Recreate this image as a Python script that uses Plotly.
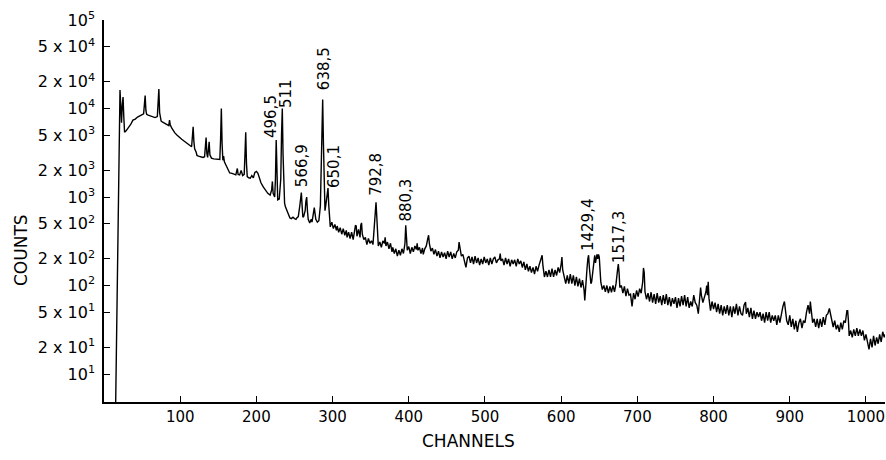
import math
import plotly.graph_objects as go

# ---- spectrum (channel, counts) ----
channels = [
    0, 15, 21, 22, 23, 24, 25, 26, 27, 29,
    31, 33, 35, 38, 41, 44, 47, 50, 52, 53,
    54, 55, 56, 58, 61, 64, 67, 70, 71, 72,
    73, 75, 77, 80, 83, 85, 86, 87, 89, 91,
    93, 96, 99, 102, 105, 108, 111, 113, 115, 116,
    117, 118, 119, 121, 122, 124, 127, 130, 132, 133,
    134, 135, 136, 137, 138, 139, 141, 144, 147, 150,
    152, 153, 154, 155, 156, 157, 158, 160, 162, 164,
    165, 168, 171, 173, 175, 176, 178, 180, 182, 184,
    185, 186, 187, 188, 190, 192, 194, 196, 198, 200,
    202, 204, 206, 209, 212, 215, 218, 220, 221, 222,
    224, 225, 226, 227, 228, 230, 232, 233, 234, 235,
    236, 237, 238, 240, 242, 244, 246, 248, 250, 252,
    253, 255, 257, 258, 259, 260, 261, 262, 264, 265,
    266, 267, 268, 270, 272, 273, 274, 275, 276, 277,
    278, 280, 282, 284, 285, 286, 287, 288, 289, 290,
    291, 292, 293, 294, 295, 296, 297, 299, 301, 303,
    305, 306, 308, 310, 312, 314, 316, 318, 319, 321,
    323, 325, 327, 329, 330, 331, 332, 334, 336, 337,
    338, 339, 341, 343, 345, 347, 349, 351, 353, 355,
    356, 357, 358, 359, 360, 362, 364, 366, 368, 369,
    370, 372, 374, 376, 378, 379, 381, 383, 385, 387,
    389, 391, 393, 395, 396, 397, 398, 400, 402, 404,
    406, 408, 410, 411, 412, 414, 416, 418, 419, 421,
    423, 425, 426, 427, 429, 431, 433, 435, 437, 439,
    441, 443, 445, 447, 449, 451, 453, 455, 457, 459,
    461, 463, 465, 466, 467, 469, 471, 473, 475, 477,
    479, 481, 483, 485, 487, 489, 491, 493, 495, 497,
    499, 501, 503, 505, 507, 509, 511, 513, 515, 517,
    519, 520, 521, 523, 525, 527, 529, 531, 533, 535,
    537, 539, 541, 543, 545, 547, 549, 551, 553, 555,
    557, 559, 561, 563, 565, 567, 569, 571, 573, 575,
    576, 578, 580, 582, 584, 586, 588, 590, 592, 594,
    596, 598, 600, 601, 602, 604, 606, 608, 610, 612,
    614, 616, 618, 620, 622, 624, 626, 628, 630, 631,
    632, 634, 635, 636, 637, 638, 639, 640, 641, 642,
    643, 644, 645, 646, 647, 648, 649, 650, 651, 652,
    654, 656, 658, 660, 662, 664, 666, 668, 670, 672,
    674, 675, 676, 677, 679, 681, 683, 685, 687, 689,
    691, 693, 695, 697, 699, 701, 703, 705, 707, 708,
    709, 710, 712, 714, 716, 718, 720, 722, 724, 726,
    728, 730, 732, 734, 736, 738, 740, 742, 744, 746,
    748, 750, 752, 754, 756, 758, 760, 762, 764, 766,
    768, 770, 772, 774, 776, 778, 780, 782, 783, 784,
    786, 788, 790, 791, 792, 793, 794, 796, 798, 800,
    802, 804, 806, 808, 810, 812, 814, 816, 818, 820,
    822, 824, 826, 828, 830, 832, 834, 836, 838, 840,
    842, 843, 845, 847, 849, 851, 853, 855, 857, 859,
    861, 863, 865, 867, 869, 871, 873, 875, 877, 879,
    881, 883, 885, 887, 889, 891, 893, 894, 896, 898,
    900, 902, 904, 906, 908, 910, 912, 914, 916, 918,
    920, 922, 924, 926, 927, 928, 930, 932, 934, 936,
    938, 940, 942, 944, 946, 948, 950, 952, 953, 955,
    957, 959, 961, 963, 965, 967, 969, 971, 973, 975,
    976, 977, 978, 980, 982, 984, 986, 988, 990, 992,
    994, 996, 998, 1000, 1002, 1004, 1006, 1008, 1010, 1012,
    1014, 1016, 1018, 1020, 1022, 1024, 1025,
]

counts = [
    3, 3, 16200, 9000, 6900, 11000, 13500, 8000, 5400, 5600,
    5900, 6300, 6600, 7400, 7600, 8000, 8200, 8500, 8700, 11000,
    14000, 9500, 8600, 8400, 8200, 8000, 7900, 8100, 11000, 16600,
    9000, 7200, 7000, 6800, 6600, 6400, 7400, 6500, 6000, 5600,
    5300, 5000, 4700, 4500, 4300, 4100, 3900, 3800, 3700, 4800,
    6200, 4200, 3500, 3200, 2950, 2900, 2850, 2800, 2850, 3800,
    4700, 3100, 2800, 3400, 4200, 3000, 2750, 2700, 2700, 2650,
    2650, 4500, 10000, 4000, 2600, 2900, 2500, 2300, 2100, 1900,
    1870, 1850, 1800, 1780, 2100, 1800, 1780, 2000, 1750, 1800,
    3000, 5400, 2400, 1700, 1650, 1630, 1750, 1650, 1900, 1950,
    1850, 1600, 1450, 1300, 1200, 1100, 1050, 1200, 1500, 1100,
    1000, 1600, 4400, 1500, 930, 950, 1600, 5000, 10000, 3000,
    1000, 850, 780, 700, 640, 580, 570, 590, 570, 560,
    580, 600, 800, 1000, 1120, 800, 590, 600, 700, 900,
    1000, 700, 560, 510, 560, 520, 580, 700, 760, 650,
    560, 520, 540, 800, 3000, 8000, 12600, 4000, 900, 700,
    800, 1000, 1200, 1260, 800, 560, 460, 520, 440, 490,
    420, 470, 400, 450, 380, 440, 370, 420, 350, 400,
    340, 400, 330, 420, 480, 470, 360, 430, 350, 480,
    510, 380, 330, 350, 290, 340, 300, 320, 290, 500,
    700, 870, 600, 400, 280, 310, 270, 320, 300, 350,
    280, 310, 260, 300, 240, 270, 230, 260, 215, 250,
    220, 260, 230, 300, 480, 350, 250, 275, 230, 270,
    240, 280, 255, 300, 250, 270, 230, 265, 225, 260,
    280, 340, 370, 300, 245, 265, 225, 255, 215, 245,
    205, 240, 210, 235, 200, 245, 210, 240, 200, 230,
    205, 240, 250, 310, 260, 215, 225, 180, 160, 205,
    215, 180, 210, 175, 215, 180, 205, 170, 200, 175,
    210, 180, 200, 170, 205, 175, 200, 210, 180, 195,
    200, 230, 190, 200, 170, 205, 175, 200, 165, 195,
    175, 195, 165, 200, 175, 190, 160, 185, 150, 175,
    145, 165, 140, 160, 135, 165, 145, 170, 190, 220,
    170, 125, 145, 125, 150, 125, 155, 125, 150, 130,
    160, 140, 175, 210, 150, 125, 105, 130, 105, 135,
    105, 130, 100, 125, 98, 120, 95, 115, 90, 68,
    100, 160, 200, 220, 160, 120, 105, 110, 130, 180,
    210, 220, 180, 220, 225, 200, 225, 210, 160, 110,
    90, 100, 85, 100, 82, 98, 84, 100, 85, 105,
    150, 175, 140, 95, 100, 82, 98, 76, 92, 78,
    80, 58, 82, 70, 88, 75, 92, 82, 110, 158,
    140, 85, 70, 82, 66, 84, 64, 80, 62, 82,
    64, 76, 60, 78, 62, 80, 60, 74, 58, 72,
    62, 74, 56, 72, 58, 76, 60, 78, 58, 74,
    56, 66, 58, 78, 64, 60, 48, 70, 95, 78,
    64, 74, 85, 100, 78, 110, 72, 52, 66, 54,
    64, 50, 62, 48, 60, 46, 58, 48, 60, 46,
    58, 44, 58, 48, 62, 46, 58, 48, 46, 60,
    65, 48, 56, 44, 56, 42, 52, 42, 50, 44,
    50, 40, 48, 38, 50, 40, 50, 38, 46, 40,
    46, 36, 46, 38, 50, 58, 66, 55, 40, 36,
    46, 34, 42, 32, 40, 30, 38, 42, 33, 40,
    38, 50, 60, 48, 66, 55, 38, 42, 34, 42,
    33, 42, 34, 44, 36, 46, 48, 55, 50, 38,
    34, 40, 32, 36, 30, 38, 32, 40, 38, 52,
    52, 40, 27, 31, 26, 32, 27, 33, 27, 32,
    27, 31, 24, 28, 23, 19, 25, 20, 27, 21,
    26, 22, 28, 23, 30, 26, 28,
]

# ---- peak energy labels ----
peak_labels = ["496,5", "511", "566,9", "638,5", "650,1", "792,8", "880,3", "1429,4", "1517,3"]
peak_label_channels = [219, 239, 260, 289, 302, 357, 396, 636, 675]
peak_label_counts = [8200, 14600, 2240, 28000, 2190, 1780, 930, 490, 355]

# ---- axis ticks ----
x_tick_values = [100, 200, 300, 400, 500, 600, 700, 800, 900, 1000]
y_tick_values = [1e5, 5e4, 2e4, 1e4, 5e3, 2e3, 1e3, 500, 200, 100, 50, 20, 10]
y_tick_text = ["10<sup>5</sup>", "5 x 10<sup>4</sup>", "2 x 10<sup>4</sup>", "10<sup>4</sup>",
               "5 x 10<sup>3</sup>", "2 x 10<sup>3</sup>", "10<sup>3</sup>",
               "5 x 10<sup>2</sup>", "2 x 10<sup>2</sup>", "10<sup>2</sup>",
               "5 x 10<sup>1</sup>", "2 x 10<sup>1</sup>", "10<sup>1</sup>"]

assert len(channels) == len(counts)

FONT = "DejaVu Sans"
L, R, T, B = 104, 1, 20, 58
W, H = 886, 460
PW, PH = W - L - R, H - T - B

fig = go.Figure()
fig.add_trace(go.Scatter(
    x=channels, y=counts, mode="lines",
    line=dict(color="black", width=1.4),
    hoverinfo="skip", showlegend=False,
))

for txt, ch, ct in zip(peak_labels, peak_label_channels, peak_label_counts):
    fig.add_annotation(
        x=ch, y=math.log10(ct), xref="x", yref="y",
        text=txt, textangle=-90, showarrow=False,
        xanchor="center", yanchor="middle",
        font=dict(family=FONT, size=15, color="black"),
    )

fig.add_annotation(
    x=(468 - L) / PW, y=1 - (441 - T) / PH, xref="paper", yref="paper",
    text="CHANNELS", showarrow=False,
    xanchor="center", yanchor="middle",
    font=dict(family=FONT, size=17, color="black"),
)
fig.add_annotation(
    x=-(L - 21) / PW, y=1 - (250 - T) / PH, xref="paper", yref="paper",
    text="COUNTS", textangle=-90, showarrow=False,
    xanchor="center", yanchor="middle",
    font=dict(family=FONT, size=17, color="black"),
)

fig.update_layout(
    width=W, height=H,
    margin=dict(l=L, r=R, t=T, b=B, autoexpand=False),
    paper_bgcolor="white", plot_bgcolor="white",
    font=dict(family=FONT, color="black"),
    xaxis=dict(
        range=[0, 1025], tickvals=x_tick_values, automargin=False,
        ticks="inside", ticklen=6, tickwidth=1.3, tickcolor="black",
        showline=True, linecolor="black", linewidth=1.6,
        showgrid=False, zeroline=False,
        tickfont=dict(family=FONT, size=15, color="black"),
        ticklabelstandoff=0,
    ),
    yaxis=dict(
        type="log", range=[0.684, 5], automargin=False,
        tickvals=y_tick_values, ticktext=y_tick_text,
        ticks="inside", ticklen=6, tickwidth=1.3, tickcolor="black",
        showline=True, linecolor="black", linewidth=1.6,
        showgrid=False, zeroline=False,
        tickfont=dict(family=FONT, size=16, color="black"),
        ticklabelstandoff=4,
    ),
)

fig.write_html(
    "out.html",
    config={"displayModeBar": False},
    post_script="document.body.style.margin='0px';document.body.style.overflow='hidden';",
)
